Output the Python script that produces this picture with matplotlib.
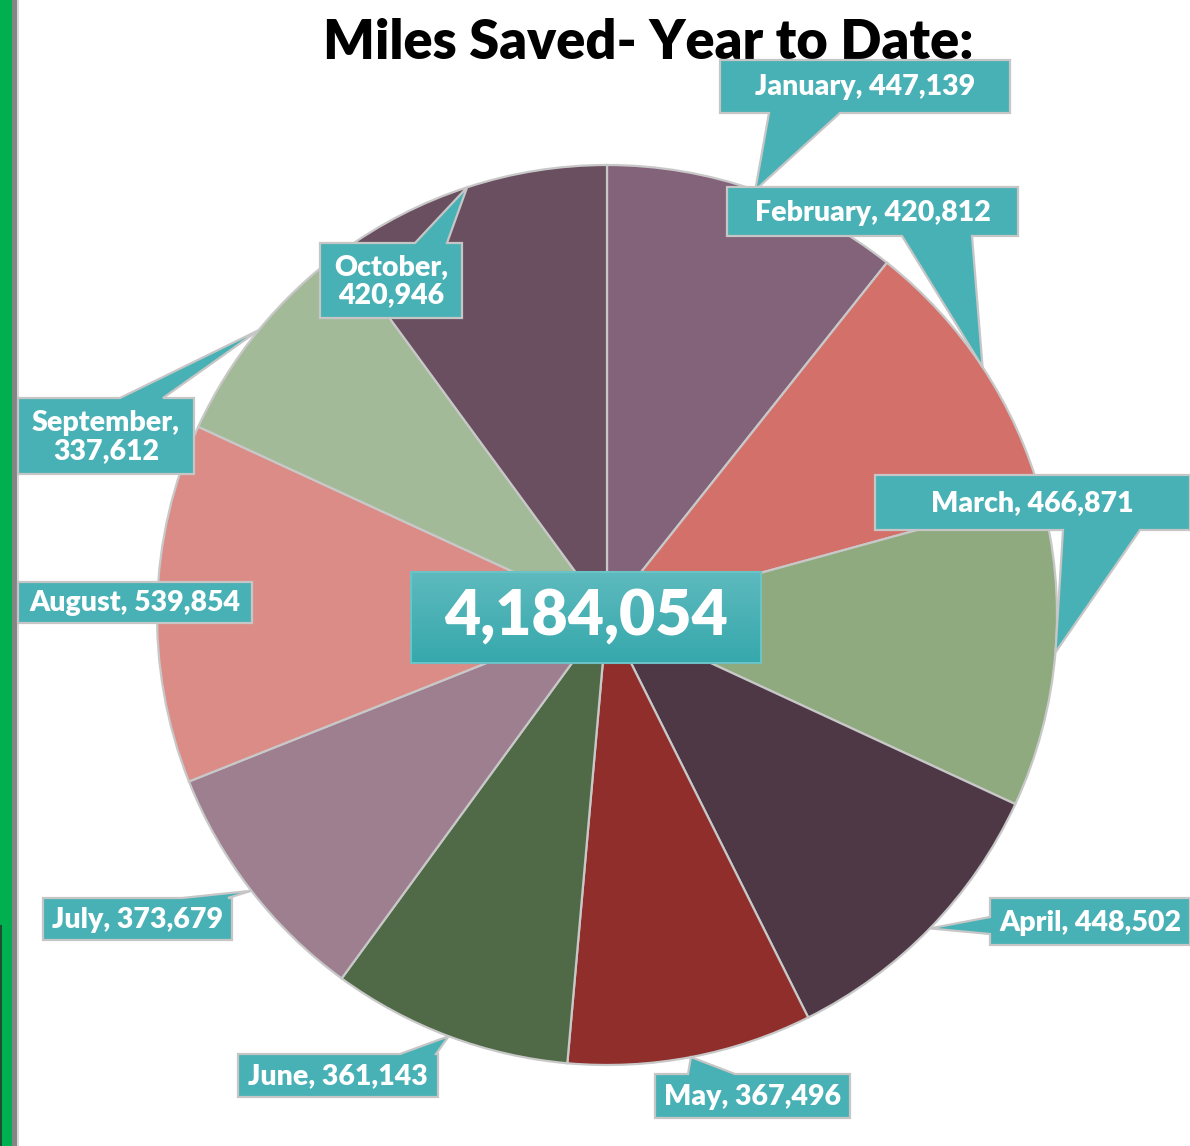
import numpy as np
import matplotlib
matplotlib.use("Agg")
import matplotlib.pyplot as plt
from matplotlib.patches import Polygon, Rectangle

# ---------------- data ----------------
months = ["January", "February", "March", "April", "May", "June",
          "July", "August", "September", "October"]
miles = [447139, 420812, 466871, 448502, 367496, 361143,
         373679, 539854, 337612, 420946]
title = "Miles Saved- Year to Date:"

# ---------------- style / layout ----------------
colors = ["#82637A", "#D4706A", "#8EAA7E", "#4E3845", "#902E2B",
          "#506A47", "#9E7F90", "#DC8C86", "#A3BA98", "#694F5F"]
W, H = 1190, 1146
CX, CY, R = 607, 615, 450          # pie centre / radius in pixels (y down)
TEAL = "#48B1B5"
EDGE = "#C6C6C6"
FONT = ["Lato", "DejaVu Sans"]

# label boxes (x0, y0, x1, y1) in pixels (y down), pointer side and base
boxes = [
    ((720, 60, 1010, 113), "bottom", (769, 840)),
    ((727, 187, 1018, 236), "bottom", (902, 972)),
    ((875, 475, 1190, 530), "bottom", (1063, 1140)),
    ((990, 898, 1190, 945), "left", (917, 934)),
    ((655, 1074, 850, 1118), "top", (688, 735)),
    ((238, 1054, 438, 1097), "top", (400, 436)),
    ((43, 898, 232, 940), "top", (182, 228)),
    ((18, 582, 252, 623), None, None),
    ((18, 398, 194, 474), "top", (120, 163)),
    ((320, 243, 462, 318), "top", (415, 447)),
]
wrap = {"September", "October"}


def Y(y):
    return H - y


fig = plt.figure(figsize=(W / 100, H / 100), dpi=100)
ax = fig.add_axes([0, 0, 1, 1])
ax.set_xlim(0, W)
ax.set_ylim(0, H)
ax.axis("off")

# left decoration
ax.add_patch(Rectangle((0, 0), 12, H, color="#00B050", lw=0, zorder=1))
ax.add_patch(Rectangle((12, 0), 5, H, color="#858585", lw=0, zorder=1))
ax.add_patch(Rectangle((17, 0), 1.5, H, color="#DADADA", lw=0, zorder=1))
ax.add_patch(Rectangle((0, 0), 1.5, Y(925), color="#1E4D30", lw=0, zorder=1))

wedges, _ = ax.pie(miles, colors=colors, startangle=90, counterclock=False,
                   center=(CX, Y(CY)), radius=R, frame=True,
                   wedgeprops=dict(edgecolor="#C8C8C8", linewidth=1.6))
ax.set_xlim(0, W)
ax.set_ylim(0, H)
ax.set_aspect("auto")
ax.axis("off")

for wdg, month, val, (box, side, base) in zip(wedges, months, miles, boxes):
    mid = np.deg2rad((wdg.theta1 + wdg.theta2) / 2)
    tx = CX + R * np.cos(mid)
    ty = CY - R * np.sin(mid)
    x0, y0, x1, y1 = box
    pts = [(x0, y0)]
    if side == "top":
        pts += [(base[0], y0), (tx, ty), (base[1], y0)]
    pts += [(x1, y0)]
    if side == "right":
        pts += [(x1, base[0]), (tx, ty), (x1, base[1])]
    pts += [(x1, y1)]
    if side == "bottom":
        pts += [(base[1], y1), (tx, ty), (base[0], y1)]
    pts += [(x0, y1)]
    if side == "left":
        pts += [(x0, base[1]), (tx, ty), (x0, base[0])]
    poly = Polygon([(px, Y(py)) for px, py in pts], closed=True,
                   facecolor=TEAL, edgecolor=EDGE, lw=1.6, zorder=5)
    ax.add_patch(poly)
    sep = "\n" if month in wrap else " "
    ax.text((x0 + x1) / 2, Y((y0 + y1) / 2) - 1, f"{month},{sep}{val:,}",
            ha="center", va="center", color="white", fontsize=20.5,
            fontweight="heavy", family=FONT, linespacing=1.1, zorder=6)

# centre total box with gradient
bx0, by0, bx1, by1 = 411, 572, 761, 663
grad = np.linspace(0, 1, 100)[:, None]
top = np.array([0x5D, 0xBA, 0xBE]) / 255
bot = np.array([0x36, 0xA8, 0xAC]) / 255
img = top[None, None, :] * (1 - grad[..., None]) + bot[None, None, :] * grad[..., None]
img = np.repeat(img, 2, axis=1)
ax.imshow(img, extent=(bx0, bx1, Y(by1), Y(by0)), aspect="auto", zorder=7,
          interpolation="bilinear")
ax.add_patch(Rectangle((bx0, Y(by1)), bx1 - bx0, by1 - by0, fill=False,
                       edgecolor="#6CC3C6", lw=1.5, zorder=8))
ax.text((bx0 + bx1) / 2, Y((by0 + by1) / 2) + 1, f"{sum(miles):,}",
        ha="center", va="center", color="white", fontsize=45,
        fontweight="heavy", family=FONT, zorder=9)
ax.set_xlim(0, W)
ax.set_ylim(0, H)

# title
ax.text(648, Y(43), title, ha="center", va="center", color="black",
        fontsize=39, fontweight="heavy", family=FONT, zorder=4)

fig.savefig("out.png", dpi=100)
